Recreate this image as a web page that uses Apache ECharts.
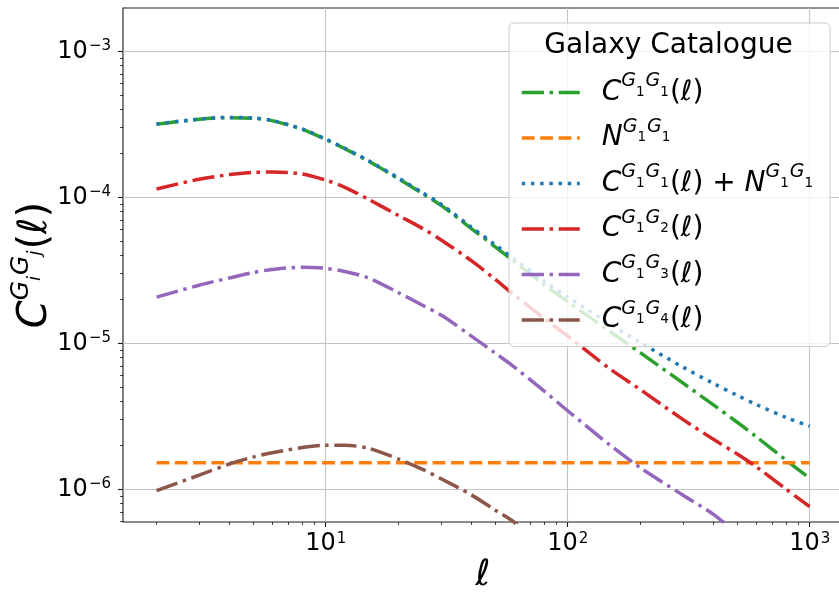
<!DOCTYPE html>
<html>
<head>
<meta charset="utf-8">
<script src="https://cdn.jsdelivr.net/npm/echarts@6/dist/echarts.min.js"></script>
<style>
  html, body { margin: 0; padding: 0; background: #ffffff; }
  #chart { width: 839px; height: 593px; }
</style>
</head>
<body>
<div id="chart"></div>
<script>
// Multipoles at which the angular power spectra are sampled
const ell = [2, 3, 4, 5, 6, 8, 10, 12, 15, 20, 25, 30, 40, 50, 60, 80, 100, 150, 200, 300, 400, 500, 600, 800, 1000];

// Auto-spectrum of bin 1
const clG1G1 = [3.16e-4, 3.42e-4, 3.51e-4, 3.48e-4, 3.35e-4, 2.92e-4, 2.49e-4, 2.15e-4, 1.77e-4, 1.34e-4,
                1.066e-4, 8.8e-5, 6.1e-5, 4.6e-5, 3.64e-5, 2.52e-5, 1.93e-5, 1.20e-5, 8.6e-6, 5.33e-6,
                3.79e-6, 2.89e-6, 2.30e-6, 1.58e-6, 1.19e-6];

// Shot noise of bin 1 (flat)
const noiseEll = [2, 1000];
const nlG1G1 = [1.52e-6, 1.52e-6];

// Signal plus noise for bin 1
const clPlusNoise = [3.175e-4, 3.435e-4, 3.525e-4, 3.495e-4, 3.365e-4, 2.935e-4, 2.505e-4, 2.165e-4, 1.785e-4, 1.355e-4,
                     1.081e-4, 8.95e-5, 6.25e-5, 4.75e-5, 3.79e-5, 2.67e-5, 2.08e-5, 1.35e-5, 1.01e-5, 6.85e-6,
                     5.31e-6, 4.41e-6, 3.82e-6, 3.10e-6, 2.71e-6];

// Cross-spectra of bin 1 with bins 2, 3, 4
const clG1G2 = [1.14e-4, 1.33e-4, 1.43e-4, 1.48e-4, 1.49e-4, 1.445e-4, 1.31e-4, 1.17e-4, 9.7e-5, 7.5e-5,
                6.15e-5, 5.1e-5, 3.68e-5, 2.75e-5, 2.15e-5, 1.48e-5, 1.12e-5, 6.65e-6, 4.81e-6, 3.0e-6,
                2.20e-6, 1.75e-6, 1.43e-6, 1.0e-6, 7.6e-7];
const clG1G3 = [2.07e-5, 2.5e-5, 2.8e-5, 3.05e-5, 3.2e-5, 3.32e-5, 3.26e-5, 3.1e-5, 2.8e-5, 2.22e-5,
                1.83e-5, 1.56e-5, 1.12e-5, 8.6e-6, 6.9e-6, 4.7e-6, 3.45e-6, 2.0e-6, 1.40e-6, 9.1e-7,
                6.74e-7, 5.0e-7, 4.0e-7, 2.7e-7, 1.9e-7];
const clG1G4 = [9.8e-7, 1.25e-6, 1.49e-6, 1.66e-6, 1.78e-6, 1.93e-6, 2.0e-6, 2.0e-6, 1.91e-6, 1.61e-6,
                1.375e-6, 1.18e-6, 9.16e-7, 7.22e-7, 5.96e-7, 3.9e-7, 2.7e-7, 1.2e-7, 6.5e-8, 2.5e-8,
                1.2e-8, 7e-9, 4.5e-9, 2e-9, 1.1e-9];

// Labelled decades on each axis
const xTickValues = [10, 100, 1000];
const yTickValues = [1e-6, 1e-5, 1e-4, 1e-3];

// Axis extents
const xMin = 1.4535, xMax = 1373;
const yMin = 5.97e-7, yMax = 1.979e-3;

// Minor ticks at 2..9 times each power of ten inside the extent
function minorTicks(lo, hi) {
  const out = [];
  for (let p = Math.floor(Math.log10(lo)); p <= Math.ceil(Math.log10(hi)); p++) {
    for (let k = 2; k <= 9; k++) {
      const v = parseFloat((k * Math.pow(10, p)).toPrecision(6));
      if (v >= lo && v <= hi) out.push(v);
    }
  }
  return out;
}

const FONT = 'DejaVu Sans';
const INK = '#000000';

function powerLabel(v) {
  const e = Math.round(Math.log10(v));
  const exp = e < 0 ? '\u2212' + (-e) : String(e);
  return '{b|10}{s|' + exp + '}';
}
const tickRich = {
  b: { fontFamily: FONT, fontSize: 24, color: INK, lineHeight: 28 },
  s: { fontFamily: FONT, fontSize: 15, color: INK, lineHeight: 28, padding: [0, 0, 10, 1] }
};

// Math-style legend entries
const legendRich = {
  i:   { fontFamily: FONT, fontStyle: 'italic', fontSize: 28, color: INK, lineHeight: 34 },
  m:   { fontFamily: FONT, fontSize: 28, color: INK, lineHeight: 34 },
  l:   { fontFamily: FONT, fontSize: 28, color: INK, lineHeight: 34 },
  sup: { fontFamily: FONT, fontStyle: 'italic', fontSize: 19, color: INK, lineHeight: 34, padding: [0, 0, 22, 0] },
  sub: { fontFamily: FONT, fontSize: 13.5, color: INK, lineHeight: 34, padding: [0, 1, 1, 0] }
};
const G11 = '{sup|G}{sub|1}{sup|G}{sub|1}';
const legendText = {
  C11:  '{i|C}' + G11 + '{m|(}{l|ℓ}{m|)}',
  N11:  '{i|N}' + G11,
  C11N: '{i|C}' + G11 + '{m|(}{l|ℓ}{m|) + }{i|N}' + G11,
  C12:  '{i|C}{sup|G}{sub|1}{sup|G}{sub|2}{m|(}{l|ℓ}{m|)}',
  C13:  '{i|C}{sup|G}{sub|1}{sup|G}{sub|3}{m|(}{l|ℓ}{m|)}',
  C14:  '{i|C}{sup|G}{sub|1}{sup|G}{sub|4}{m|(}{l|ℓ}{m|)}'
};

const yNameRich = {
  i:   { fontFamily: FONT, fontStyle: 'italic', fontSize: 40, color: INK, lineHeight: 50 },
  m:   { fontFamily: FONT, fontSize: 40, color: INK, lineHeight: 50 },
  l:   { fontFamily: FONT, fontSize: 40, color: INK, lineHeight: 50 },
  sup: { fontFamily: FONT, fontStyle: 'italic', fontSize: 25, color: INK, lineHeight: 50, padding: [0, 0, 29, 0] },
  sub: { fontFamily: FONT, fontStyle: 'italic', fontSize: 18, color: INK, lineHeight: 50, padding: [0, 1, 1, 0] }
};

const DASHDOT = [22.2, 5.6, 3.5, 5.6];
const DASHED = [12.85, 5.56];
const DOTTED = [3.47, 5.73];

const palette = {
  C11: '#2ca02c', N11: '#ff7f0e', C11N: '#1f77b4',
  C12: '#d62728', C13: '#9467bd', C14: '#8c564b'
};
const dashes = {
  C11: DASHDOT, N11: DASHED, C11N: DOTTED,
  C12: DASHDOT, C13: DASHDOT, C14: DASHDOT
};

function curve(name, xs, ys) {
  return {
    name: name,
    type: 'line',
    data: xs.map((x, i) => [x, ys[i]]),
    symbol: 'none',
    smooth: 0.3,
    clip: true,
    silent: true,
    itemStyle: { color: palette[name] },
    lineStyle: { color: palette[name], width: 3.5, type: dashes[name], cap: 'butt' }
  };
}

const legendOrder = ['C11', 'N11', 'C11N', 'C12', 'C13', 'C14'];

const chart = echarts.init(document.getElementById('chart'), null, { renderer: 'canvas' });

const option = {
  animation: false,
  backgroundColor: '#ffffff',
  grid: {
    left: 123, right: -4, top: 8, bottom: 71,
    outerBoundsMode: 'none', containLabel: false,
    show: true, borderColor: '#1a1a1a', borderWidth: 1.1, backgroundColor: 'transparent'
  },
  xAxis: [
    {
      type: 'log', logBase: 10, min: xMin, max: xMax,
      axisLine: { show: false },
      axisTick: { show: true, customValues: xTickValues, length: 5, lineStyle: { color: '#1a1a1a', width: 1.1 } },
      axisLabel: { customValues: xTickValues, formatter: powerLabel, rich: tickRich, margin: 8 },
      splitLine: { show: true, lineStyle: { color: '#c4c4c4', width: 1.1 } },
      name: '{l|ℓ}', nameLocation: 'middle', nameGap: 33, nameMoveOverlap: false,
      nameTextStyle: { rich: { l: { fontFamily: FONT, fontSize: 36, color: INK, lineHeight: 42 } } }
    },
    {
      type: 'log', logBase: 10, min: xMin, max: xMax, gridIndex: 0, position: 'bottom',
      axisLine: { show: false },
      axisTick: { show: true, customValues: minorTicks(xMin, xMax), length: 2.8, lineStyle: { color: '#1a1a1a', width: 0.9 } },
      axisLabel: { show: false },
      splitLine: { show: false }
    }
  ],
  yAxis: [
    {
      type: 'log', logBase: 10, min: yMin, max: yMax,
      axisLine: { show: false },
      axisTick: { show: true, customValues: yTickValues, length: 5, lineStyle: { color: '#1a1a1a', width: 1.1 } },
      axisLabel: { customValues: yTickValues, formatter: powerLabel, rich: tickRich, margin: 12 },
      splitLine: { show: true, lineStyle: { color: '#c4c4c4', width: 1.1 } },
      name: '{i|C}{sup|G}{sub|i}{sup|G}{sub|j}{m|(}{l|ℓ}{m|)}',
      nameLocation: 'middle', nameRotate: 90, nameGap: 62, nameMoveOverlap: false,
      nameTextStyle: { rich: yNameRich }
    },
    {
      type: 'log', logBase: 10, min: yMin, max: yMax, gridIndex: 0, position: 'left',
      axisLine: { show: false },
      axisTick: { show: true, customValues: minorTicks(yMin, yMax), length: 2.8, lineStyle: { color: '#1a1a1a', width: 0.9 } },
      axisLabel: { show: false },
      splitLine: { show: false }
    }
  ],
  legend: {
    orient: 'vertical',
    left: 509, top: 23,
    padding: [49, 16, 6, 11],
    itemWidth: 58, itemHeight: 34, itemGap: 4.5,
    backgroundColor: 'rgba(255,255,255,0.8)',
    borderColor: '#cccccc', borderWidth: 1, borderRadius: 5,
    selectedMode: false,
    itemStyle: { opacity: 0, borderWidth: 0 },
    lineStyle: { width: 3.5, cap: 'butt', opacity: 1 },
    data: legendOrder.map(n => ({
      name: n,
      itemStyle: { opacity: 0, borderWidth: 0 },
      lineStyle: { color: palette[n], width: 3.5, type: dashes[n], cap: 'butt', opacity: 1 }
    })),
    formatter: name => legendText[name],
    textStyle: { padding: [0, 0, 0, 17], rich: legendRich }
  },
  graphic: [
    {
      type: 'text', z: 100, x: 668.5, y: 46,
      style: {
        text: 'Galaxy Catalogue', font: '28px "DejaVu Sans"', fill: INK,
        align: 'center', verticalAlign: 'middle', textAlign: 'center', textVerticalAlign: 'middle'
      }
    }
  ],
  series: [
    curve('C11', ell, clG1G1),
    curve('N11', noiseEll, nlG1G1),
    curve('C11N', ell, clPlusNoise),
    curve('C12', ell, clG1G2),
    curve('C13', ell, clG1G3),
    curve('C14', ell, clG1G4)
  ]
};

chart.setOption(option);
</script>
</body>
</html>
